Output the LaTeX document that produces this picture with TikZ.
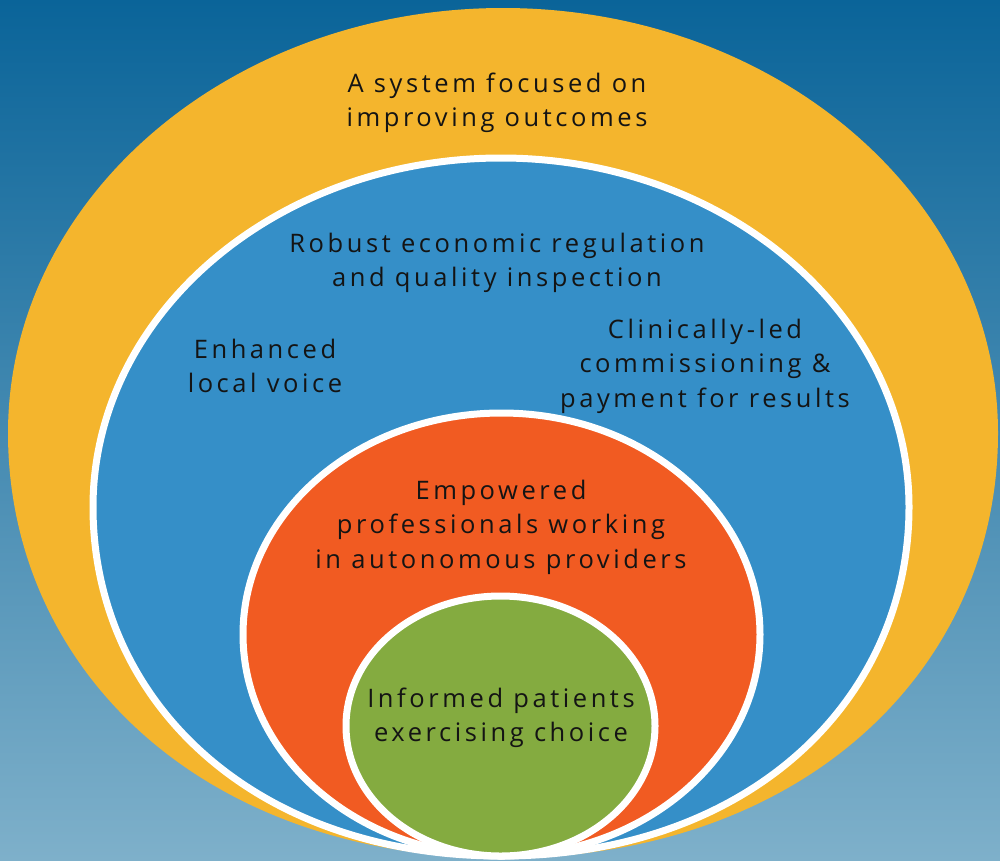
\documentclass[tikz,border=0pt]{standalone}
\usepackage{fontspec}
\setmainfont[LetterSpace=14]{Open Sans}
\definecolor{bgtop}{HTML}{0A6499}
\definecolor{bgbot}{HTML}{7EB0CA}
\definecolor{ringyellow}{HTML}{F4B52D}
\definecolor{ringblue}{HTML}{358FC8}
\definecolor{ringorange}{HTML}{F15B22}
\definecolor{ringgreen}{HTML}{84AB40}
\definecolor{txt}{HTML}{141414}
\tikzset{
  ring/.style={line width=7pt, draw=white},
  label/.style={align=center, inner sep=0pt, text=txt, font=\fontsize{25.5}{34.5}\selectfont}
}
% egg: centre x, centre y, x radius, y radius, bottom handle factor
\newcommand\ringegg[5]{(#1,{#2+#4}) .. controls ({#1-#5*#3},{#2+#4}) and ({#1-#3},{#2+0.552*#4}) .. ({#1-#3},#2) .. controls ({#1-#3},{#2-0.552*#4}) and ({#1-0.552*#3},{#2-#4}) .. (#1,{#2-#4}) .. controls ({#1+0.552*#3},{#2-#4}) and ({#1+#3},{#2-0.552*#4}) .. ({#1+#3},#2) .. controls ({#1+#3},{#2+0.552*#4}) and ({#1+#5*#3},{#2+#4}) .. cycle}
\begin{document}
\begin{tikzpicture}[x=1pt, y=-1pt]
\useasboundingbox (0,0) rectangle (1000,860);
\shade[top color=bgtop, bottom color=bgbot] (0,0) rectangle (1000,860);
% outer yellow
\fill[ringyellow] \ringegg{503}{433}{495}{425}{0.61};
% blue
\filldraw[ring, fill=ringblue] \ringegg{501}{507}{408}{349}{0.61};
% orange
\filldraw[ring, fill=ringorange] (501.5,634.5) ellipse [x radius=258.5, y radius=221.5];
% green
\filldraw[ring, fill=ringgreen] (500.5,726) ellipse [x radius=154.5, y radius=130];
% texts
\node[label] (outcomes) at (497,103) {A system focused on\\improving outcomes};
\node[label] (regulation) at (497,263) {Robust economic regulation\\and quality inspection};
\node[label] (voice) at (265,366) {Enhanced\\local voice};
\node[label] (commissioning) at (705,366) {Clinically-led\\commissioning \&\\payment for results};
\node[label] (professionals) at (501,527) {Empowered\\professionals working\\in autonomous providers};
\node[label] (patients) at (501,718) {Informed patients\\exercising choice};
\end{tikzpicture}
\end{document}
